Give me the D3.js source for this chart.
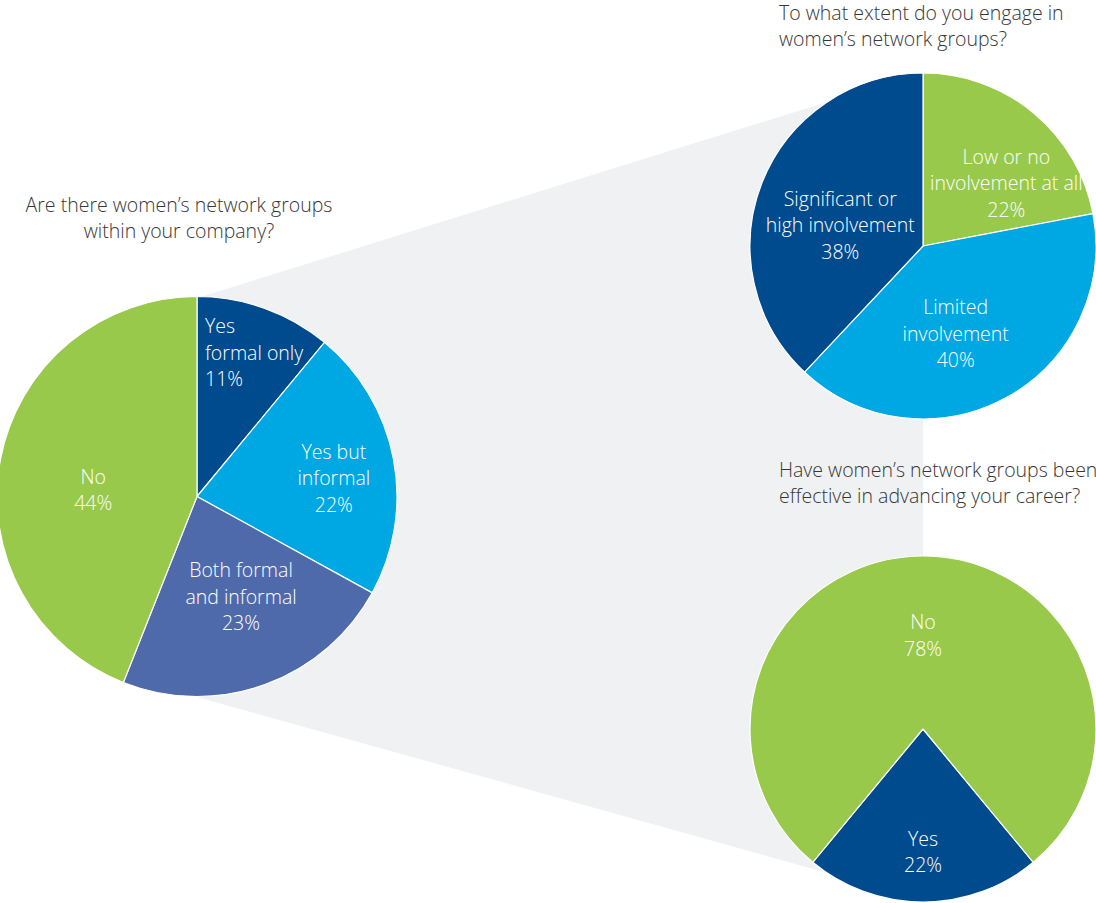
<!DOCTYPE html>
<html>
<head>
<meta charset="utf-8">
<script src="https://cdn.jsdelivr.net/npm/d3@7"></script>
<style>
  html, body { margin: 0; padding: 0; background: #ffffff; }
  svg { display: block; }
  text { font-family: "Open Sans", "Noto Sans", sans-serif; }
</style>
</head>
<body>
<svg id="chart" width="1096" height="903"></svg>
<script>
// ---- data ----
const companyCategories = ["Yes formal only", "Yes but informal", "Both formal and informal", "No"];
const companyValues = [11, 22, 23, 44];
const companyLabels = [["Yes", "formal only", "11%"], ["Yes but", "informal", "22%"], ["Both formal", "and informal", "23%"], ["No", "44%"]];
const companyTitle = ["Are there women\u2019s network groups", "within your company?"];

const engageCategories = ["Low or no involvement at all", "Limited involvement", "Significant or high involvement"];
const engageValues = [22, 40, 38];
const engageLabels = [["Low or no", "involvement at all", "22%"], ["Limited", "involvement", "40%"], ["Significant or", "high involvement", "38%"]];
const engageTitle = ["To what extent do you engage in", "women\u2019s network groups?"];

const effectiveCategories = ["Yes", "No"];
const effectiveValues = [22, 78];
const effectiveLabels = [["Yes", "22%"], ["No", "78%"]];
const effectiveTitle = ["Have women\u2019s network groups been", "effective in advancing your career?"];

// ---- styles ----
const C = { dark: "#004b8e", light: "#00a8e3", mid: "#4f6aab", green: "#98c94b", grey: "#f0f1f3", text: "#363636" };
const svg = d3.select("#chart");
const FS = 19.5;

const pies = [
  { cx: 197, cy: 496.5, r: 200, values: companyValues, cats: companyCategories, labels: companyLabels,
    colors: d3.scaleOrdinal().domain(companyCategories).range([C.dark, C.light, C.mid, C.green]),
    start: 0,
    nudges: [[-34, -27, "start"], [15, 5], [2, -16], [18, 17]] },
  { cx: 923, cy: 246, r: 173, values: engageValues, cats: engageCategories, labels: engageLabels,
    colors: d3.scaleOrdinal().domain(engageCategories).range([C.green, C.light, C.dark]),
    start: 0,
    nudges: [[15, 20], [-19, -6], [17, 19]] },
  { cx: 923, cy: 729, r: 173, values: effectiveValues, cats: effectiveCategories, labels: effectiveLabels,
    colors: d3.scaleOrdinal().domain(effectiveCategories).range([C.dark, C.green]),
    start: Math.PI - Math.PI * effectiveValues[0] / 100,
    nudges: [[0, 16], [0, 14]] }
];

// connector band (behind the pies)
const band = d3.path();
band.moveTo(197, 298);
band.lineTo(872, 88);
band.lineTo(923, 246);
band.lineTo(923, 729);
band.lineTo(860, 882);
band.lineTo(197, 697);
band.closePath();
svg.append("path").attr("d", band.toString()).attr("fill", C.grey);

const lineH = 26.5;
pies.forEach(p => {
  const pie = d3.pie().sort(null).value(d => d).startAngle(p.start).endAngle(p.start + 2 * Math.PI);
  const arcs = pie(p.values);
  const arc = d3.arc().innerRadius(0).outerRadius(p.r);
  const labelArc = d3.arc().innerRadius(p.r * 0.62).outerRadius(p.r * 0.62);
  const g = svg.append("g").attr("transform", `translate(${p.cx},${p.cy})`);
  g.selectAll("path.slice").data(arcs).join("path")
    .attr("class", "slice")
    .attr("d", arc)
    .attr("fill", (d, i) => p.colors(p.cats[i]))
    .attr("stroke", "#ffffff")
    .attr("stroke-width", 1.2)
    .attr("stroke-linejoin", "round");
  arcs.forEach((d, i) => {
    const [x, y] = labelArc.centroid(d);
    const nd = p.nudges[i];
    const lines = p.labels[i];
    const anchor = nd[2] || "middle";
    const t = g.append("text")
      .attr("fill", "#ffffff")
      .attr("font-size", FS)
      .attr("font-weight", 300)
      .attr("text-anchor", anchor);
    const y0 = y + nd[1] - (lines.length - 1) * lineH / 2;
    lines.forEach((s, k) => {
      t.append("tspan").attr("x", x + nd[0]).attr("y", y0 + k * lineH).attr("dy", "0.35em").text(s);
    });
  });
});

function title(lines, x, y, anchor) {
  const t = svg.append("text").attr("fill", C.text).attr("font-size", FS).attr("font-weight", 300).attr("text-anchor", anchor);
  lines.forEach((s, k) => t.append("tspan").attr("x", x).attr("y", y + k * 26.5).attr("dy", "0.35em").text(s));
}
title(companyTitle, 179, 205, "middle");
title(engageTitle, 779, 13, "start");
title(effectiveTitle, 779, 470, "start");
</script>
</body>
</html>
